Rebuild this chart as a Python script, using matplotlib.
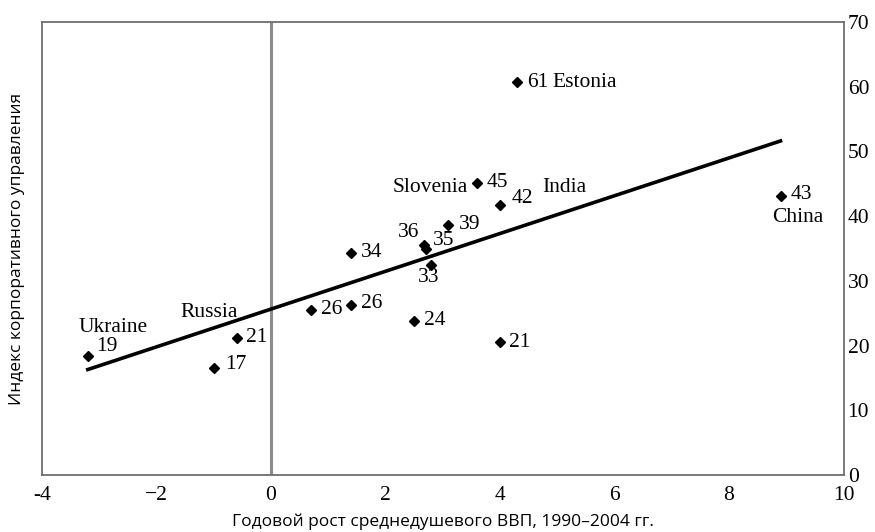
import matplotlib.pyplot as plt

# data
gdp_growth = [-3.2, -0.6, -1.0, 0.7, 1.4, 1.4, 2.68, 2.7, 2.8, 3.1, 3.6, 4.0, 2.5, 4.0, 4.3, 8.9]
gov_index = [18.4, 21.2, 16.6, 25.5, 26.3, 34.3, 35.6, 34.9, 32.5, 38.6, 45.1, 41.7, 23.8, 20.5, 60.7, 43.1]
value_labels = ["19", "21", "17", "26", "26", "34", "36", "35", "33", "39", "45", "42", "24", "21", "61", "43"]

# country names, attached to the point index
country_names = ["Ukraine", "Russia", "Slovenia", "India", "Estonia", "China"]
country_points = [0, 1, 10, 11, 14, 15]

trend_x = [-3.2, 8.9]
trend_y = [16.3, 51.6]

# label placement: (dx, dy) in pixels, horizontal alignment
value_pos = [(8, 9, "left"), (9, 0, "left"), (11, 3, "left"), (10, 0, "left"),
             (10, 1, "left"), (10, 0, "left"), (-5, 12, "right"), (7, 9, "left"),
             (-3, -13, "center"), (10, 1, "left"), (10, 1, "left"), (12, 7, "left"),
             (10, 0, "left"), (9, 0, "left"), (10, 0, "left"), (10, 1, "left")]
name_pos = [(25, 28, "center"), (-56, 25, "left"), (-9, -4, "right"),
            (42, 18, "left"), (35, 0, "left"), (17, -22, "center")]

serif = "Liberation Serif"
fs = 15.5

fig = plt.figure(figsize=(8.75, 5.32), dpi=100)
ax = fig.add_axes([0.048, 0.107, 0.916, 0.852])

ax.axvline(0, color="#8c8c8c", lw=2.2, zorder=1)
ax.plot(trend_x, trend_y, color="black", lw=2.6, zorder=2)
ax.plot(gdp_growth, gov_index, "D", color="black", ms=4.8, zorder=3)

for i, (dx, dy, ha) in enumerate(value_pos):
    ax.annotate(value_labels[i], (gdp_growth[i], gov_index[i]), xytext=(dx, dy),
                textcoords="offset pixels", ha=ha, va="center",
                fontsize=fs, family=serif)

for name, i, (dx, dy, ha) in zip(country_names, country_points, name_pos):
    ax.annotate(name, (gdp_growth[i], gov_index[i]), xytext=(dx, dy),
                textcoords="offset pixels", ha=ha, va="center",
                fontsize=fs, family=serif)

ax.set_xlim(-4, 10)
ax.set_ylim(0, 70)
ax.set_xticks(range(-4, 11, 2))
ax.set_xticklabels(["-4", "\u22122", "0", "2", "4", "6", "8", "10"])
ax.set_yticks(range(0, 71, 10))
ax.yaxis.tick_right()
ax.tick_params(length=0, labelsize=fs, pad=3)
ax.tick_params(axis="x", pad=8)
for lbl in ax.get_xticklabels() + ax.get_yticklabels():
    lbl.set_family(serif)

for sp in ax.spines.values():
    sp.set_color("#6e6e6e")
    sp.set_linewidth(1.3)

ax.yaxis.set_label_position("left")
ax.set_ylabel("Индекс корпоративного управления", fontsize=12.5, family="Open Sans", labelpad=12)
ax.set_xlabel("Годовой рост среднедушевого ВВП, 1990–2004 гг.", fontsize=12.5, family="Open Sans", labelpad=6)

fig.savefig("out.png", dpi=100)
